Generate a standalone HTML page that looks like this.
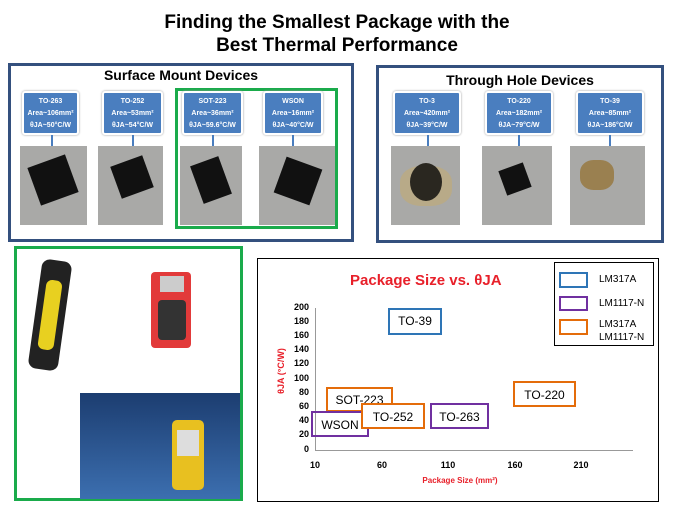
<!DOCTYPE html>
<html><head><meta charset="utf-8"><style>
body{margin:0;width:674px;height:506px;background:#fff;position:relative;overflow:hidden;font-family:"Liberation Sans","DejaVu Sans",sans-serif}
.a{position:absolute;box-sizing:border-box}
.t{font-weight:bold;text-align:center;color:#000}
.lbl{position:absolute;box-sizing:border-box;background:#4a7ebf;color:#fff;font-size:7px;font-weight:bold;text-align:center;line-height:12px;padding-top:3px;border:2px solid #fff;box-shadow:0 0 2px #999;border-radius:3px}
.stem{position:absolute;width:2px;background:#4a7ebf;height:11px}
.ph{position:absolute;background:#a9a9a7}
.box{position:absolute;box-sizing:border-box;border:2px solid;font-size:12px;text-align:center;background:transparent}
.yl{position:absolute;font-size:9px;font-weight:bold;text-align:right;width:22px}
.xl{position:absolute;font-size:9px;font-weight:bold;text-align:center;width:30px}
</style></head><body>
<div class="a t" style="left:0;top:11px;width:674px;font-size:19px;line-height:23px">Finding the Smallest Package with the<br>Best Thermal Performance</div>

<!-- SMD panel -->
<div class="a" style="left:8px;top:63px;width:346px;height:179px;border:3px solid #34507e"></div>
<div class="a t" style="left:8px;top:67px;width:346px;font-size:14px">Surface Mount Devices</div>
<div class="a" style="left:175px;top:88px;width:163px;height:141px;border:3px solid #1aab4b"></div>
<div class="lbl" style="left:22px;top:91px;width:57px;height:44px">TO-263<br>Area~106mm²<br>θJA~50°C/W</div>
<div class="stem" style="left:51px;top:135px"></div>
<div class="ph" style="left:20px;top:146px;width:67px;height:79px"></div>
<div class="a" style="left:33px;top:160px;width:40px;height:40px;background:#111;transform:rotate(-20deg)"></div>
<div class="lbl" style="left:102px;top:91px;width:61px;height:44px">TO-252<br>Area~53mm²<br>θJA~54°C/W</div>
<div class="stem" style="left:132px;top:135px"></div>
<div class="ph" style="left:98px;top:146px;width:65px;height:79px"></div>
<div class="a" style="left:115px;top:160px;width:34px;height:34px;background:#111;transform:rotate(-20deg)"></div>
<div class="lbl" style="left:182px;top:91px;width:61px;height:44px">SOT-223<br>Area~36mm²<br>θJA~59.6°C/W</div>
<div class="stem" style="left:212px;top:135px"></div>
<div class="ph" style="left:180px;top:146px;width:62px;height:79px"></div>
<div class="a" style="left:196px;top:160px;width:30px;height:40px;background:#111;transform:rotate(-20deg)"></div>
<div class="lbl" style="left:263px;top:91px;width:60px;height:44px">WSON<br>Area~16mm²<br>θJA~40°C/W</div>
<div class="stem" style="left:292px;top:135px"></div>
<div class="ph" style="left:259px;top:146px;width:76px;height:79px"></div>
<div class="a" style="left:279px;top:162px;width:38px;height:38px;background:#111;transform:rotate(20deg)"></div>

<!-- TH panel -->
<div class="a" style="left:376px;top:65px;width:288px;height:178px;border:3px solid #34507e"></div>
<div class="a t" style="left:376px;top:72px;width:288px;font-size:14px">Through Hole Devices</div>
<div class="lbl" style="left:393px;top:91px;width:68px;height:44px">TO-3<br>Area~420mm²<br>θJA~39°C/W</div>
<div class="stem" style="left:427px;top:135px"></div>
<div class="ph" style="left:391px;top:146px;width:69px;height:79px"></div>
<div class="a" style="left:400px;top:166px;width:52px;height:40px;border-radius:40%;background:#b8aa88"></div>
<div class="a" style="left:410px;top:163px;width:32px;height:38px;border-radius:50%;background:#2a2720"></div>
<div class="lbl" style="left:485px;top:91px;width:68px;height:44px">TO-220<br>Area~182mm²<br>θJA~79°C/W</div>
<div class="stem" style="left:518px;top:135px"></div>
<div class="ph" style="left:482px;top:146px;width:70px;height:79px"></div>
<div class="a" style="left:502px;top:166px;width:26px;height:26px;background:#111;transform:rotate(-20deg)"></div>
<div class="lbl" style="left:576px;top:91px;width:68px;height:44px">TO-39<br>Area~85mm²<br>θJA~186°C/W</div>
<div class="stem" style="left:609px;top:135px"></div>
<div class="ph" style="left:570px;top:146px;width:75px;height:79px"></div>
<div class="a" style="left:580px;top:160px;width:34px;height:30px;border-radius:40%;background:#9a8050"></div>

<!-- bottom left -->
<div class="a" style="left:14px;top:246px;width:229px;height:255px;border:3px solid #1aab4b"></div>
<div class="a" style="left:35px;top:260px;width:30px;height:110px;background:#222;border-radius:8px;transform:rotate(8deg)"></div>
<div class="a" style="left:42px;top:280px;width:16px;height:70px;background:#e8d020;border-radius:6px;transform:rotate(8deg)"></div>
<div class="a" style="left:151px;top:272px;width:40px;height:76px;background:#e23a3a;border-radius:4px"></div>
<div class="a" style="left:160px;top:276px;width:24px;height:16px;background:#ccc"></div>
<div class="a" style="left:158px;top:300px;width:28px;height:40px;background:#333;border-radius:4px"></div>
<div class="a" style="left:80px;top:393px;width:160px;height:106px;background:linear-gradient(#1c3d70,#3c6fb0)"></div>
<div class="a" style="left:172px;top:420px;width:32px;height:70px;background:#e8c020;border-radius:5px"></div>
<div class="a" style="left:177px;top:430px;width:22px;height:26px;background:#ddd"></div>

<!-- chart -->
<div class="a" style="left:257px;top:258px;width:402px;height:244px;border:1px solid #000"></div>
<div class="a" style="left:350px;top:272px;width:220px;font-size:15px;font-weight:bold;color:#e8202a;text-align:left">Package Size vs. θJA</div>
<div class="a" style="left:554px;top:262px;width:100px;height:84px;border:1px solid #000;background:#fff"></div>
<div class="box" style="left:559px;top:272px;width:29px;height:16px;border-color:#2e75b6"></div>
<div class="box" style="left:559px;top:296px;width:29px;height:15px;border-color:#7030a0"></div>
<div class="box" style="left:559px;top:319px;width:29px;height:16px;border-color:#e46c0a"></div>
<div class="a" style="left:599px;top:274px;font-size:10px">LM317A</div>
<div class="a" style="left:599px;top:298px;font-size:10px">LM1117-N</div>
<div class="a" style="left:599px;top:318px;font-size:10px;line-height:13px">LM317A<br>LM1117-N</div>
<div class="a" style="left:315px;top:308px;width:1px;height:142px;background:#999"></div>
<div class="a" style="left:315px;top:450px;width:318px;height:1px;background:#999"></div>
<div class="yl" style="left:287px;top:302px">200</div>
<div class="yl" style="left:287px;top:316px">180</div>
<div class="yl" style="left:287px;top:330px">160</div>
<div class="yl" style="left:287px;top:344px">140</div>
<div class="yl" style="left:287px;top:358px">120</div>
<div class="yl" style="left:287px;top:373px">100</div>
<div class="yl" style="left:287px;top:387px">80</div>
<div class="yl" style="left:287px;top:401px">60</div>
<div class="yl" style="left:287px;top:415px">40</div>
<div class="yl" style="left:287px;top:429px">20</div>
<div class="yl" style="left:287px;top:444px">0</div>
<div class="xl" style="left:300px;top:460px">10</div>
<div class="xl" style="left:367px;top:460px">60</div>
<div class="xl" style="left:433px;top:460px">110</div>
<div class="xl" style="left:500px;top:460px">160</div>
<div class="xl" style="left:566px;top:460px">210</div>
<div class="a" style="left:400px;top:476px;width:120px;font-size:8px;font-weight:bold;color:#e8202a;text-align:center">Package Size (mm²)</div>
<div class="a" style="left:241px;top:366px;width:80px;font-size:9px;font-weight:bold;color:#e8202a;text-align:center;transform:rotate(-90deg)">θJA (°C/W)</div>
<div class="box" style="left:388px;top:308px;width:54px;height:27px;border-color:#2e75b6;line-height:23px">TO-39</div>
<div class="box" style="left:326px;top:387px;width:67px;height:25px;border-color:#e46c0a;line-height:23px">SOT-223</div>
<div class="box" style="left:311px;top:411px;width:58px;height:26px;border-color:#7030a0;line-height:24px">WSON</div>
<div class="box" style="left:361px;top:403px;width:64px;height:26px;border-color:#e46c0a;line-height:24px;background:#fff">TO-252</div>
<div class="box" style="left:430px;top:403px;width:59px;height:26px;border-color:#7030a0;line-height:24px">TO-263</div>
<div class="box" style="left:513px;top:381px;width:63px;height:26px;border-color:#e46c0a;line-height:24px">TO-220</div>
</body></html>
